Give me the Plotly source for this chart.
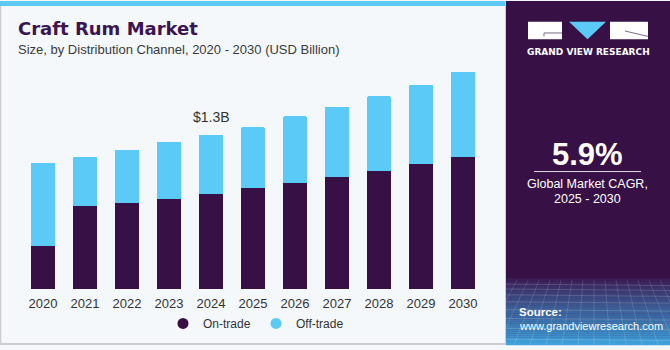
import plotly.graph_objects as go

years = [2020, 2021, 2022, 2023, 2024, 2025, 2026, 2027, 2028, 2029, 2030]
year_labels = [str(y) for y in years]
on_trade = [0.364, 0.695, 0.728, 0.762, 0.803, 0.850, 0.892, 0.946, 0.991, 1.054, 1.115]
off_trade = [0.701, 0.420, 0.445, 0.477, 0.497, 0.513, 0.563, 0.591, 0.634, 0.668, 0.714]
series_names = ["On-trade", "Off-trade"]
highlight_year = 2024
highlight_label = "$1.3B"
cagr_text = "5.9%"

DARK = "#371045"
BLUE = "#5BCAF6"
BG = "#F4F8FB"

W, H = 670, 350
L, R, T, B = 22, 484, 60, 293


def px(x):
    return (x - L) / (R - L)


def py(y):
    return (B - y) / (B - T)


fig = go.Figure()
fig.add_bar(x=years, y=on_trade, name=series_names[0], marker=dict(color=DARK, line=dict(width=0)),
            showlegend=False, hoverinfo="x+y")
fig.add_bar(x=years, y=off_trade, name=series_names[1], marker=dict(color=BLUE, line=dict(width=0)),
            showlegend=False, hoverinfo="x+y")
# legend entries with circle markers
fig.add_scatter(x=[None], y=[None], mode="markers", name=series_names[0],
                marker=dict(color=DARK, size=11, symbol="circle"))
fig.add_scatter(x=[None], y=[None], mode="markers", name=series_names[1],
                marker=dict(color=BLUE, size=11, symbol="circle"))

totals = [a + b for a, b in zip(on_trade, off_trade)]
hi = years.index(highlight_year)

shapes = []
annotations = []

# left panel borders and top stripe
shapes.append(dict(type="rect", xref="paper", yref="paper", x0=px(0), x1=px(505), y0=py(0), y1=py(5),
                   fillcolor=BLUE, line=dict(width=0), layer="below"))
shapes.append(dict(type="line", xref="paper", yref="paper", x0=px(0.5), x1=px(0.5), y0=py(5), y1=py(349.5),
                   line=dict(color="#CCCCCC", width=1.5)))
shapes.append(dict(type="line", xref="paper", yref="paper", x0=px(0), x1=px(505), y0=py(349), y1=py(349),
                   line=dict(color="#CCCCCC", width=2)))
shapes.append(dict(type="line", xref="paper", yref="paper", x0=px(505.5), x1=px(505.5), y0=py(0), y1=py(350),
                   line=dict(color="#CCCCCC", width=1)))

# right panel
PX0, PX1 = 506, 670
shapes.append(dict(type="rect", xref="paper", yref="paper", x0=px(PX0), x1=px(PX1), y0=py(0), y1=py(350),
                   fillcolor=DARK, line=dict(width=0), layer="below"))


def lerp(c1, c2, t):
    a = [int(c1[i:i + 2], 16) for i in (1, 3, 5)]
    b = [int(c2[i:i + 2], 16) for i in (1, 3, 5)]
    return "rgb(%d,%d,%d)" % tuple(round(a[k] + (b[k] - a[k]) * t) for k in range(3))


g0, g1 = 282, 350
steps = 34
for i in range(steps):
    y0 = g0 + (g1 - g0) * i / steps
    y1 = g0 + (g1 - g0) * (i + 1) / steps
    t = (i + 0.5) / steps
    col = lerp("#3A1850", "#3EA3DD", t ** 0.9)
    shapes.append(dict(type="rect", xref="paper", yref="paper", x0=px(PX0), x1=px(PX1), y0=py(y0), y1=py(y1 + 0.3),
                       fillcolor=col, line=dict(width=0), layer="below"))
# faint mesh
for yy in [288, 293, 299, 306, 314, 323, 333, 344]:
    shapes.append(dict(type="line", xref="paper", yref="paper", x0=px(PX0), x1=px(PX1), y0=py(yy), y1=py(yy + 1.5),
                       line=dict(color="rgba(255,255,255,0.16)", width=1)))


def clip_line(xa, ya, xb, yb):
    ts = [0.0, 1.0]
    if xb != xa:
        for xe in (PX0, PX1):
            t = (xe - xa) / (xb - xa)
            if 0 < t < 1:
                ts.append(t)
    ts.sort()
    segs = []
    for t0, t1 in zip(ts[:-1], ts[1:]):
        tm = (t0 + t1) / 2
        xm = xa + (xb - xa) * tm
        if PX0 <= xm <= PX1:
            segs.append((xa + (xb - xa) * t0, ya + (yb - ya) * t0, xa + (xb - xa) * t1, ya + (yb - ya) * t1))
    return segs


for k in range(-8, 20):
    xt = PX0 + k * 11
    xb = PX0 + k * 16 - 40
    for (a, b, c, d) in clip_line(xt, 284, xb, 350):
        shapes.append(dict(type="line", xref="paper", yref="paper", x0=px(a), x1=px(c), y0=py(b), y1=py(d),
                           line=dict(color="rgba(255,255,255,0.13)", width=1)))

# logo
shapes.append(dict(type="rect", xref="paper", yref="paper", x0=px(528), x1=px(562), y0=py(21), y1=py(39),
                   fillcolor="white", line=dict(width=0)))
shapes.append(dict(type="path", xref="paper", yref="paper",
                   path="M %f,%f L %f,%f L %f,%f" % (px(562), py(32.5), px(544), py(32.5), px(544), py(36)),
                   line=dict(color="#7A6A85", width=1)))
shapes.append(dict(type="path", xref="paper", yref="paper",
                   path="M %f,%f L %f,%f L %f,%f Z" % (px(569), py(21), px(606), py(21), px(587.5), py(39)),
                   fillcolor=BLUE, line=dict(width=0)))
shapes.append(dict(type="rect", xref="paper", yref="paper", x0=px(610), x1=px(648), y0=py(21), y1=py(39),
                   fillcolor="white", line=dict(width=0)))
shapes.append(dict(type="path", xref="paper", yref="paper",
                   path="M %f,%f L %f,%f" % (px(625), py(30.5), px(648), py(36)),
                   line=dict(color="#7A6A85", width=1)))
annotations.append(dict(xref="paper", yref="paper", x=px(588), y=py(51.5), text="<b>GRAND VIEW RESEARCH</b>",
                        showarrow=False, xanchor="center", yanchor="middle",
                        font=dict(family="DejaVu Sans", size=9, color="white")))

# CAGR
annotations.append(dict(xref="paper", yref="paper", x=px(587.5), y=py(156), text="<b>%s</b>" % cagr_text,
                        showarrow=False, xanchor="center", yanchor="middle",
                        font=dict(family="Liberation Sans", size=31, color="white")))
shapes.append(dict(type="line", xref="paper", yref="paper", x0=px(534), x1=px(641), y0=py(173.5), y1=py(173.5),
                   line=dict(color="rgba(255,255,255,0.85)", width=1)))
annotations.append(dict(xref="paper", yref="paper", x=px(587.5), y=py(186), text="Global Market CAGR,",
                        showarrow=False, xanchor="center", yanchor="middle",
                        font=dict(family="Liberation Sans", size=12.5, color="white")))
annotations.append(dict(xref="paper", yref="paper", x=px(587.5), y=py(201.5), text="2025 - 2030",
                        showarrow=False, xanchor="center", yanchor="middle",
                        font=dict(family="Liberation Sans", size=12.5, color="white")))
annotations.append(dict(xref="paper", yref="paper", x=px(517), y=py(316), text="<b>Source:</b>",
                        showarrow=False, xanchor="left", yanchor="middle",
                        font=dict(family="Liberation Sans", size=11.5, color="white")))
annotations.append(dict(xref="paper", yref="paper", x=px(517), y=py(330.5), text="www.grandviewresearch.com",
                        showarrow=False, xanchor="left", yanchor="middle",
                        font=dict(family="Liberation Sans", size=11, color="white")))

# titles
annotations.append(dict(xref="paper", yref="paper", x=px(16), y=py(28), text="<b>Craft Rum Market</b>",
                        showarrow=False, xanchor="left", yanchor="middle",
                        font=dict(family="DejaVu Sans", size=18, color="#3B1452")))
annotations.append(dict(xref="paper", yref="paper", x=px(16), y=py(49.5),
                        text="Size, by Distribution Channel, 2020 - 2030 (USD Billion)",
                        showarrow=False, xanchor="left", yanchor="middle",
                        font=dict(family="Liberation Sans", size=13, color="#3A3A3A")))

# highlight label
annotations.append(dict(x=years[hi], y=totals[hi], xref="x", yref="y", text=highlight_label,
                        showarrow=False, xanchor="center", yanchor="bottom", yshift=8,
                        font=dict(family="Liberation Sans", size=14, color="#333333")))

fig.update_layout(
    width=W, height=H,
    margin=dict(l=L, r=W - R, t=T, b=H - B, pad=0),
    paper_bgcolor=BG, plot_bgcolor=BG,
    barmode="stack", bargap=1 - 24 / 42, barcornerradius=2,
    xaxis=dict(range=[2019.5, 2030.5], tickvals=years, ticktext=year_labels, showgrid=False, zeroline=False,
               showline=False, ticks="", ticklabelstandoff=5,
               tickfont=dict(family="Liberation Sans", size=13, color="#333333"),
               fixedrange=True),
    yaxis=dict(range=[0, (B - T) / 120.8], visible=False, showgrid=False, zeroline=False, fixedrange=True),
    legend=dict(orientation="h", x=px(163), y=py(328), xanchor="left", yanchor="middle", traceorder="normal",
                font=dict(family="Liberation Sans", size=12, color="#333333"), entrywidth=48,
                bgcolor="rgba(0,0,0,0)", itemclick=False, itemdoubleclick=False),
    shapes=shapes, annotations=annotations,
    showlegend=True,
)

fig.write_html("out.html")
